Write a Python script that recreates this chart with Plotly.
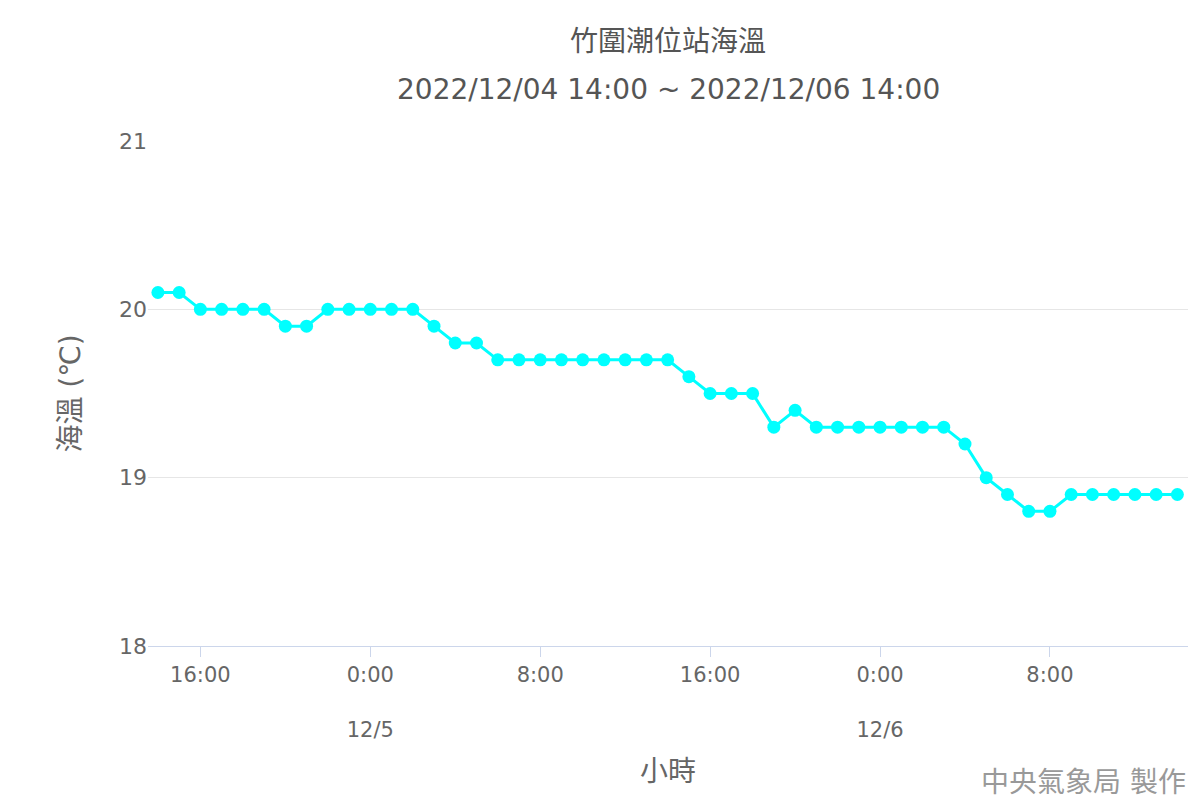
import plotly.graph_objects as go
import pandas as pd

times = pd.date_range("2022-12-04 14:00", "2022-12-06 14:00", freq="h")
temps = [20.1, 20.1, 20.0, 20.0, 20.0, 20.0, 19.9, 19.9, 20.0, 20.0,
         20.0, 20.0, 20.0, 19.9, 19.8, 19.8, 19.7, 19.7, 19.7, 19.7,
         19.7, 19.7, 19.7, 19.7, 19.7, 19.6, 19.5, 19.5, 19.5, 19.3,
         19.4, 19.3, 19.3, 19.3, 19.3, 19.3, 19.3, 19.3, 19.2, 19.0,
         18.9, 18.8, 18.8, 18.9, 18.9, 18.9, 18.9, 18.9, 18.9]
tick_vals = ["2022-12-04 16:00", "2022-12-05 00:00", "2022-12-05 08:00",
             "2022-12-05 16:00", "2022-12-06 00:00", "2022-12-06 08:00"]
tick_text = ["16:00", "0:00<br><br>12/5", "8:00", "16:00", "0:00<br><br>12/6", "8:00"]

font = "DejaVu Sans, Noto Sans CJK TC"
grey = "#666666"

fig = go.Figure(go.Scatter(
    x=times, y=temps, mode="lines+markers",
    line=dict(color="#00FFFF", width=3),
    marker=dict(size=13, color="#00FFFF"),
    showlegend=False))

fig.update_layout(
    width=1200, height=800,
    paper_bgcolor="white", plot_bgcolor="white",
    font=dict(family=font, color=grey, size=22),
    margin=dict(l=140, r=20, t=133, b=162),
    xaxis=dict(range=["2022-12-04 13:32", "2022-12-06 14:30"],
               tickvals=tick_vals, ticktext=tick_text,
               showgrid=False, showline=True, linecolor="#ccd6eb",
               ticks="outside", tickcolor="#ccd6eb", ticklen=10,
               tickfont=dict(size=21),
               title=dict(text="小時", font=dict(size=28), standoff=20)),
    yaxis=dict(range=[18, 21], dtick=1, gridcolor="#e6e6e6",
               zeroline=False, ticks="", ticklen=0,
               title=dict(text="海溫 (℃)", font=dict(size=28), standoff=30)),
    annotations=[
        dict(text="竹圍潮位站海溫", x=0.5, y=1, xref="paper", yref="paper",
             yshift=118, showarrow=False, font=dict(size=28, color="#555555")),
        dict(text="2022/12/04 14:00 ~ 2022/12/06 14:00", x=0.5, y=1,
             xref="paper", yref="paper", yshift=70, showarrow=False,
             font=dict(size=28, color="#555555")),
        dict(text="中央氣象局 製作", x=1, y=0, xref="paper", yref="paper",
             xanchor="right", yanchor="top", yshift=-118, xshift=0,
             showarrow=False, font=dict(size=28, color="#999999")),
    ],
)

fig.write_html("out.html")
